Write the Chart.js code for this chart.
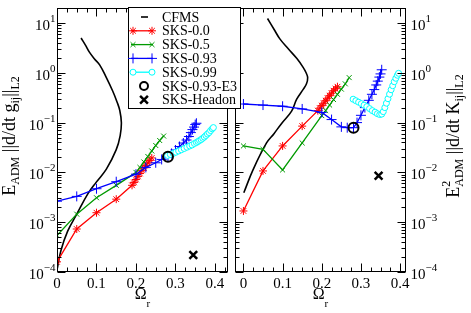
<!DOCTYPE html>
<html>
<head>
<meta charset="utf-8">
<script src="https://cdn.jsdelivr.net/npm/chart.js@4.4.0/dist/chart.umd.min.js"></script>
<style>
  body { margin: 0; background: #fff; }
  #wrap { position: relative; width: 471px; height: 313px; }
  #wrap canvas { position: absolute; left: 0; top: 0; }
</style>
</head>
<body>
<div id="wrap">
  <canvas id="gPanel" width="471" height="313"></canvas>
  <canvas id="kPanel" width="471" height="313"></canvas>
</div>
<script>
// ---- data (Omega_r vs error norms) ----
const seriesLabels = ['CFMS', 'SKS-0.0', 'SKS-0.5', 'SKS-0.93', 'SKS-0.99', 'SKS-0.93-E3', 'SKS-Headon'];

const cfmsOmegaG = [0.061, 0.072, 0.082, 0.095, 0.108, 0.125, 0.141, 0.152, 0.159, 0.163, 0.160, 0.150, 0.125, 0.099, 0.078, 0.05, 0.027, 0.010, 0.0];
const cfmsG = [5.0, 3.6, 2.6, 1.9, 1.44, 0.8, 0.43, 0.26, 0.175, 0.1, 0.055, 0.0286, 0.0116, 0.0063, 0.0037, 0.00145, 0.00066, 0.00027, 0.00011];
const cfmsOmegaK = [0.0615, 0.078, 0.093, 0.115, 0.136, 0.152, 0.160, 0.164, 0.161, 0.153, 0.136, 0.123, 0.097, 0.078, 0.059, 0.025, 0.001];
const cfmsK = [12.3, 7.5, 4.8, 3.0, 1.95, 1.3, 1.0, 0.8, 0.6, 0.47, 0.295, 0.17, 0.095, 0.06, 0.039, 0.0115, 0.0039];

const omegaRed = [0, 0.05, 0.1, 0.15, 0.19, 0.195, 0.2, 0.205, 0.21, 0.215, 0.22, 0.225, 0.23, 0.235, 0.24];
const redG = [1.6e-4, 7.3e-4, 1.55e-3, 2.9e-3, 5.5e-3, 6.3e-3, 7.2e-3, 8.3e-3, 9.5e-3, 0.011, 0.0123, 0.0138, 0.0155, 0.0174, 0.0195];
const redK = [1.68e-3, 0.0107, 0.034, 0.085, 0.174, 0.195, 0.219, 0.245, 0.275, 0.309, 0.347, 0.389, 0.437, 0.479, 0.525];

const omegaGreen = [0, 0.05, 0.1, 0.15, 0.2, 0.21, 0.22, 0.23, 0.24, 0.25, 0.26, 0.27];
const greenG = [5.4e-4, 1.45e-3, 3.1e-3, 5.5e-3, 0.01, 0.0126, 0.0162, 0.0209, 0.0269, 0.0347, 0.0437, 0.0537];
const greenK = [0.034, 0.029, 0.0112, 0.039, 0.138, 0.175, 0.225, 0.29, 0.37, 0.47, 0.6, 0.8];

const omegaBlue = [0, 0.05, 0.1, 0.15, 0.2, 0.225, 0.25, 0.265, 0.281, 0.29, 0.3, 0.31, 0.32, 0.328, 0.334, 0.339, 0.343, 0.347, 0.35, 0.353];
const blueG = [2.64e-3, 3.3e-3, 4.7e-3, 6.5e-3, 9.2e-3, 0.0126, 0.0156, 0.0182, 0.0206, 0.024, 0.0282, 0.0331, 0.0389, 0.0447, 0.0525, 0.063, 0.0724, 0.0813, 0.0912, 0.097];
const blueK = [0.236, 0.225, 0.213, 0.188, 0.16, 0.115, 0.082, 0.079, 0.079, 0.1, 0.14, 0.2, 0.28, 0.37, 0.46, 0.57, 0.68, 0.82, 0.95, 1.15];

const omegaCyan = [0.28, 0.287, 0.294, 0.301, 0.308, 0.315, 0.322, 0.329, 0.336, 0.342, 0.348, 0.353, 0.357, 0.361, 0.365, 0.369, 0.373, 0.377, 0.381, 0.385, 0.389, 0.393, 0.396];
const cyanG = [0.0219, 0.0229, 0.0240, 0.0254, 0.0269, 0.0285, 0.0302, 0.0320, 0.0339, 0.0355, 0.0380, 0.0398, 0.0417, 0.0437, 0.0457, 0.0484, 0.0513, 0.0550, 0.0589, 0.0631, 0.0692, 0.0750, 0.0794];
const cyanK = [0.295, 0.275, 0.257, 0.240, 0.224, 0.209, 0.191, 0.174, 0.162, 0.151, 0.145, 0.148, 0.166, 0.200, 0.245, 0.302, 0.372, 0.457, 0.550, 0.661, 0.776, 0.891, 0.977];

const omegaE3 = [0.281];
const e3G = [0.0206];
const e3K = [0.079];

const omegaHeadon = [0.345];
const headonG = [2.2e-4];
const headonK = [0.0086];

// axis ticks
const xTickValues = [0, 0.1, 0.2, 0.3, 0.4];
const xTickLabels = ['0', '0.1', '0.2', '0.3', '0.4'];
const yTickExps = [-4, -3, -2, -1, 0, 1];

const SERIF = '"Liberation Serif", "Times New Roman", serif';

function pts(xs, ys) {
    return xs.map((x, i) => ({ x: x, y: ys[i] }));
}

function makeSets(cfms, red, green, blue, cyan, e3, head) {
    return [
        { label: seriesLabels[0], data: cfms, borderColor: '#000', borderWidth: 1.6, pointRadius: 0, tension: 0.4, showLine: true, order: 6 },
        { label: seriesLabels[1], data: red, borderColor: '#ff0000', backgroundColor: '#ff0000', borderWidth: 1.3,
          pointStyle: 'star', pointRadius: 4, pointBorderWidth: 1, showLine: true, order: 5 },
        { label: seriesLabels[2], data: green, borderColor: '#009a00', backgroundColor: '#009a00', borderWidth: 1.3,
          pointStyle: 'crossRot', pointRadius: 3.5, pointBorderWidth: 1, showLine: true, order: 4 },
        { label: seriesLabels[3], data: blue, borderColor: '#0000ff', backgroundColor: '#0000ff', borderWidth: 1.3,
          pointStyle: 'cross', pointRadius: 5, pointBorderWidth: 1, showLine: true, order: 3 },
        { label: seriesLabels[4], data: cyan, borderColor: '#00ffff', backgroundColor: '#ffffff', borderWidth: 1.3,
          pointStyle: 'circle', pointRadius: 3, pointBorderWidth: 1, showLine: true, order: 2 },
        { label: seriesLabels[5], data: e3, borderColor: '#000', backgroundColor: 'rgba(0,0,0,0)',
          pointStyle: 'circle', pointRadius: 5, pointBorderWidth: 2, showLine: false, order: 1, legendRadius: 4 },
        { label: seriesLabels[6], data: head, borderColor: '#000', backgroundColor: '#000',
          pointStyle: 'crossRot', pointRadius: 5.5, pointBorderWidth: 2.5, showLine: false, order: 0, legendRadius: 5.5 }
    ];
}

// draws text pieces (with sub/superscripts) rotated to read bottom-to-top
function drawRotated(ctx, cx, cy, parts) {
    ctx.save();
    ctx.translate(cx, cy);
    ctx.rotate(-Math.PI / 2);
    let total = 0;
    parts.forEach(p => {
        ctx.font = p.size + 'px ' + SERIF;
        p.w = ctx.measureText(p.t).width;
        if (p.adv !== false) total += p.w;
    });
    let x = -total / 2;
    ctx.fillStyle = '#000';
    ctx.textBaseline = 'alphabetic';
    ctx.textAlign = 'left';
    parts.forEach(p => {
        ctx.font = p.size + 'px ' + SERIF;
        ctx.fillText(p.t, x, p.dy || 0);
        if (p.adv !== false) x += p.w;
    });
    ctx.restore();
}

const panelFrame = {
    id: 'panelFrame',
    afterDraw(chart, args, opts) {
        const { ctx, chartArea: a } = chart;
        const xs = chart.scales.x, ys = chart.scales.y;
        const L = Math.round(a.left) + 0.5, R = Math.round(a.right) - 0.5;
        const T = Math.round(a.top) + 0.5, B = Math.round(a.bottom) - 0.5;
        ctx.save();
        ctx.strokeStyle = '#000';
        ctx.lineWidth = 1;
        ctx.strokeRect(L, T, R - L, B - T);

        ctx.beginPath();
        for (let i = 0; i * 0.025 <= xs.max + 1e-9; i++) {
            const v = i * 0.025;
            if (v < xs.min) continue;
            const px = Math.round(xs.getPixelForValue(v)) + 0.5;
            const len = i % 4 === 0 ? 8 : 4;
            ctx.moveTo(px, B); ctx.lineTo(px, B - len);
            ctx.moveTo(px, T); ctx.lineTo(px, T + len);
        }
        yTickExps.forEach(d => {
            for (let m = 1; m <= 9; m++) {
                const v = m * Math.pow(10, d);
                if (v > ys.max) break;
                const py = Math.round(ys.getPixelForValue(v)) + 0.5;
                const len = m === 1 ? 8 : 4;
                ctx.moveTo(L, py); ctx.lineTo(L + len, py);
                ctx.moveTo(R, py); ctx.lineTo(R - len, py);
            }
        });
        ctx.stroke();

        // x tick labels
        ctx.fillStyle = '#000';
        ctx.font = '15px ' + SERIF;
        ctx.textAlign = 'center';
        ctx.textBaseline = 'alphabetic';
        xTickValues.forEach((v, i) => {
            ctx.fillText(xTickLabels[i], xs.getPixelForValue(v), a.bottom + 16);
        });

        // y tick labels 10^n
        yTickExps.forEach(d => {
            const py = ys.getPixelForValue(Math.pow(10, d));
            const exp = d < 0 ? '\u2212' + (-d) : String(d);
            ctx.font = '11px ' + SERIF;
            const ew = ctx.measureText(exp).width;
            ctx.font = '15px ' + SERIF;
            const bw = ctx.measureText('10').width;
            let x0 = opts.side === 'left' ? a.left - 1.5 - ew - bw : a.right + 4.5;
            ctx.textAlign = 'left';
            ctx.fillText('10', x0, py + 7);
            ctx.font = '11px ' + SERIF;
            ctx.fillText(exp, x0 + bw, py - 1);
        });

        // x axis title: Omega_r
        const cx = (a.left + a.right) / 2;
        ctx.font = '16px ' + SERIF;
        const ow = ctx.measureText('\u03A9').width;
        ctx.font = '11px ' + SERIF;
        const rw = ctx.measureText('r').width;
        ctx.font = '16px ' + SERIF;
        ctx.fillText('\u03A9', cx - (ow + rw) / 2, a.bottom + 27);
        ctx.font = '11px ' + SERIF;
        ctx.fillText('r', cx - (ow + rw) / 2 + ow, a.bottom + 35);
        ctx.restore();

        // y axis title
        drawRotated(ctx, opts.titleX, (a.top + a.bottom) / 2 - 4, opts.title);
    }
};

const legendBox = {
    id: 'legendBox',
    afterDraw(chart) {
        const ctx = chart.ctx;
        const box = { l: 128.5, t: 7.5, r: 240.5, b: 108.5 };
        ctx.save();
        ctx.fillStyle = '#fff';
        ctx.fillRect(box.l, box.t, box.r - box.l, box.b - box.t);
        ctx.strokeStyle = '#000';
        ctx.lineWidth = 1;
        ctx.strokeRect(box.l, box.t, box.r - box.l, box.b - box.t);
        chart.data.datasets.forEach((ds, i) => {
            const y = 17 + i * 13.8;
            ctx.strokeStyle = ds.borderColor;
            ctx.fillStyle = ds.backgroundColor || '#fff';
            if (ds.showLine) {
                const x1 = ds.pointRadius === 0 ? 141 : 131;
                const x2 = ds.pointRadius === 0 ? 148 : 153;
                ctx.lineWidth = ds.borderWidth;
                ctx.beginPath();
                ctx.moveTo(x1, y); ctx.lineTo(x2, y);
                ctx.stroke();
                if (ds.pointRadius > 0) {
                    const o = { pointStyle: ds.pointStyle, radius: ds.pointRadius, rotation: 0, borderWidth: ds.pointBorderWidth };
                    ctx.lineWidth = ds.pointBorderWidth;
                    Chart.helpers.drawPoint(ctx, o, 133, y);
                    Chart.helpers.drawPoint(ctx, o, 152, y);
                }
            } else {
                ctx.lineWidth = ds.pointBorderWidth;
                Chart.helpers.drawPoint(ctx, { pointStyle: ds.pointStyle, radius: ds.legendRadius, rotation: 0, borderWidth: ds.pointBorderWidth }, 144, y);
            }
            ctx.fillStyle = '#000';
            ctx.font = '14px ' + SERIF;
            ctx.textAlign = 'left';
            ctx.textBaseline = 'middle';
            ctx.fillText(ds.label, 162, y + 1);
        });
        ctx.restore();
    }
};

function baseOptions(xmin, xmax, padding, frameOpts) {
    return {
        responsive: false,
        animation: false,
        devicePixelRatio: 1,
        layout: { padding: padding },
        scales: {
            x: { type: 'linear', min: xmin, max: xmax, display: false },
            y: { type: 'logarithmic', min: 1e-4, max: 20, display: false }
        },
        plugins: {
            legend: { display: false },
            tooltip: { enabled: false },
            panelFrame: frameOpts
        }
    };
}

new Chart('gPanel', {
    type: 'scatter',
    data: {
        datasets: makeSets(pts(cfmsOmegaG, cfmsG), pts(omegaRed, redG), pts(omegaGreen, greenG),
            pts(omegaBlue, blueG), pts(omegaCyan, cyanG), pts(omegaE3, e3G), pts(omegaHeadon, headonG))
    },
    options: baseOptions(0, 0.433, { left: 57, right: 243, top: 2, bottom: 41 }, {
        side: 'left',
        titleX: 15,
        title: [
            { t: 'E', size: 18 }, { t: 'ADM', size: 12, dy: 4 },
            { t: ' ||d/dt g', size: 18 }, { t: 'ij', size: 12, dy: 4 },
            { t: '||', size: 18 }, { t: 'L2', size: 12, dy: 4 }
        ]
    }),
    plugins: [panelFrame]
});

new Chart('kPanel', {
    type: 'scatter',
    data: {
        datasets: makeSets(pts(cfmsOmegaK, cfmsK), pts(omegaRed, redK), pts(omegaGreen, greenK),
            pts(omegaBlue, blueK), pts(omegaCyan, cyanK), pts(omegaE3, e3K), pts(omegaHeadon, headonK))
    },
    options: baseOptions(-0.0215, 0.415, { left: 235, right: 65, top: 2, bottom: 41 }, {
        side: 'right',
        titleX: 459,
        title: [
            { t: 'E', size: 18 }, { t: '2', size: 12, dy: -9, adv: false }, { t: 'ADM', size: 12, dy: 4 },
            { t: ' ||d/dt K', size: 18 }, { t: 'ij', size: 12, dy: 4 },
            { t: '||', size: 18 }, { t: 'L2', size: 12, dy: 4 }
        ]
    }),
    plugins: [panelFrame, legendBox]
});
</script>
</body>
</html>
